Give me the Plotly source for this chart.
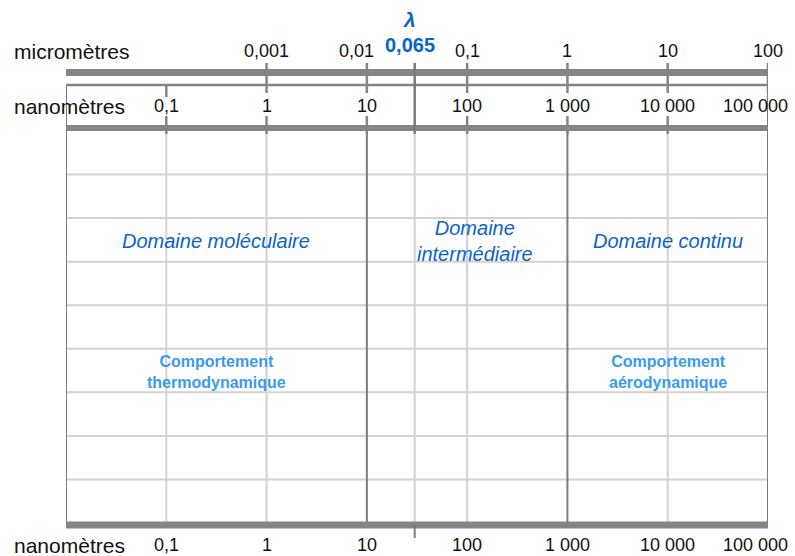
import numpy as np
import plotly.graph_objects as go

# échelles (valeurs des graduations)
nm_vals = [0.1, 1, 10, 100, 1000, 10000, 100000]
nm_labels = ["0,1", "1", "10", "100", "1 000", "10 000", "100 000"]
um_vals = [0.001, 0.01, 0.1, 1, 10, 100]
um_labels = ["0,001", "0,01", "0,1", "1", "10", "100"]

# libre parcours moyen
lambda_label = "0,065"
lambda_pos_nm = 30  # position du trait telle que dessinée dans le schéma

# domaines (bornes en nm)
domain_edges_nm = [0.01, 10, 1000, 100000]
domain_names = ["Domaine moléculaire", "Domaine<br>intermédiaire", "Domaine continu"]
behaviours = {0: "Comportement<br>thermodynamique", 2: "Comportement<br>aérodynamique"}

n_rows = 9

W, H = 795, 556
X0, X1 = 66, 768
DARK = "#7b7b7b"
BAR = "#858585"
LIGHT = "#d2d2d2"
BLUE = "#0a64c8"
LBLUE = "#3a9af0"
FAM = "Liberation Sans, Arial"

lg = lambda v: float(np.log10(v))
xmin, xmax = lg(domain_edges_nm[0]), lg(domain_edges_nm[-1])

fig = go.Figure()
# trace invisible pour fixer les axes
fig.add_trace(go.Scatter(x=[xmin, xmax], y=[0, 0], mode="markers",
                         marker=dict(opacity=0), hoverinfo="skip", showlegend=False))

shapes = []


def seg(x0, y0, x1, y1, color, width):
    shapes.append(dict(type="line", xref="x", yref="y", x0=x0, y0=y0, x1=x1, y1=y1,
                       line=dict(color=color, width=width), layer="above"))


# grille
g_top, g_bot = 131, 523
row_h = (g_bot - g_top) / n_rows
for i in range(1, n_rows):
    seg(xmin, g_top + i * row_h, xmax, g_top + i * row_h, LIGHT, 2)

bounds = [lg(v) for v in domain_edges_nm[1:-1]]
for v in nm_vals[:-1]:
    x = lg(v)
    seg(x, g_top, x, g_bot, DARK if x in bounds else LIGHT, 2)
seg(lg(lambda_pos_nm), g_top, lg(lambda_pos_nm), g_bot, LIGHT, 2)
seg(xmin, 85, xmin, g_bot, DARK, 2)
seg(xmax, 63, xmax, g_bot, DARK, 2)

# barres d'échelle
seg(xmin, 72.5, xmax, 72.5, BAR, 7)
seg(xmin, 85, xmax, 85, BAR, 2.5)
seg(xmin, 128, xmax, 128, BAR, 6)
seg(xmin, 525, xmax, 525, BAR, 7)

# graduations
for v in um_vals:
    x = lg(v * 1000)
    seg(x, 63, x, 93, BAR, 2.5)
for v in nm_vals[:-1]:
    seg(lg(v), 116, lg(v), 134, BAR, 2.5)
seg(lg(nm_vals[0]), 85, lg(nm_vals[0]), 97, BAR, 2.5)
seg(lg(lambda_pos_nm), 63, lg(lambda_pos_nm), 134, DARK, 2.5)
seg(lg(lambda_pos_nm), 525, lg(lambda_pos_nm), 538, DARK, 2)

ann = []
font = dict(family=FAM, size=18, color="#111111")
wfont = dict(family=FAM, size=21, color="#111111")


def text(x, y, s, f, **kw):
    ann.append(dict(x=x, y=y, xref="x", yref="y", text=s, showarrow=False, font=f, **kw))


# libellés d'échelle
for y, s in [(51, "micromètres"), (106, "nanomètres"), (545, "nanomètres")]:
    ann.append(dict(x=12 / W, y=y, xref="paper", yref="y", text=s, showarrow=False,
                    font=wfont, xanchor="left"))
for v, s in zip(um_vals, um_labels):
    dx = -0.1 if s == "0,01" else 0
    text(lg(v * 1000) + dx, 51, s, font)
for v, s in zip(nm_vals, nm_labels):
    kw = dict(xanchor="right", xshift=22) if v == nm_vals[-1] else {}
    text(lg(v), 106, s, font, **kw)
    text(lg(v), 545, s, font, **kw)

# lambda
bfont = dict(family=FAM, size=20, color=BLUE)
text(lg(lambda_pos_nm) - 0.05, 19, "<b><i>λ</i></b>", dict(bfont, size=21))
text(lg(lambda_pos_nm) - 0.05, 45, "<b>" + lambda_label + "</b>", bfont)

# domaines
ifont = dict(family=FAM, size=20, color=BLUE)
cfont = dict(family=FAM, size=16, color=LBLUE)
for i, name in enumerate(domain_names):
    xc = (lg(domain_edges_nm[i]) + lg(domain_edges_nm[i + 1])) / 2
    text(xc + (0.08 if i == 1 else 0), 241, "<i>" + name + "</i>", ifont)
    if i in behaviours:
        text(xc, 372, "<b>" + behaviours[i] + "</b>", cfont)

fig.update_layout(
    width=W, height=H,
    margin=dict(l=0, r=0, t=0, b=0),
    paper_bgcolor="white", plot_bgcolor="white",
    xaxis=dict(range=[xmin, xmax], domain=[X0 / W, X1 / W], visible=False),
    yaxis=dict(range=[H, 0], visible=False),
    shapes=shapes, annotations=ann, showlegend=False,
)

fig.write_html("out.html", config={"displayModeBar": False},
               post_script="document.body.style.margin='0';")
